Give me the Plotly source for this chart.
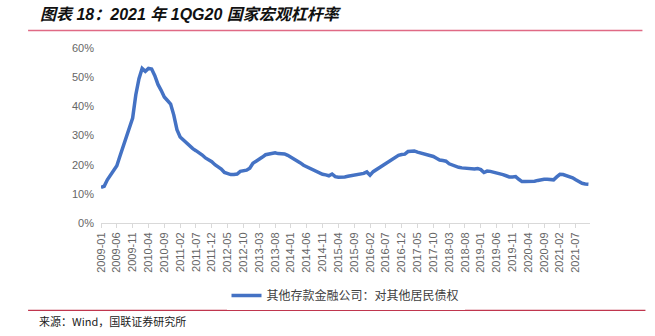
import plotly.graph_objects as go

# Monthly series, 2009-01 .. 2021-11 (percent)
years = list(range(2009, 2022))
months = [f"{y}-{m:02d}" for y in years for m in range(1, 13)][:155]

values = [
    12.2, 12.6, 14.8, 16.3, 17.6, 19.6, 23.0, 26.5, 29.5, 33.0,
    36.0, 44.0, 49.5, 53.0, 52.0, 53.0, 52.8, 50.5, 47.5, 45.5,
    43.2, 42.0, 40.8, 37.0, 32.0, 29.5, 28.5, 27.5, 26.3, 25.5,
    24.8, 24.2, 23.3, 22.3, 21.7, 21.0, 20.0, 19.2, 18.5, 17.3,
    16.8, 16.6, 16.6, 16.8, 17.7, 18.0, 18.1, 18.8, 20.5, 21.2,
    21.8, 22.6, 23.4, 23.6, 24.1, 24.1, 23.8, 23.8, 23.7, 23.2,
    22.6, 22.0, 21.3, 20.6, 19.8, 19.3, 18.8, 18.0, 17.5, 17.0,
    16.7, 16.5, 16.2, 16.8, 15.9, 15.7, 15.6, 15.8, 16.0, 16.2,
    16.4, 16.6, 16.7, 17.0, 17.5, 16.4, 17.6, 18.3, 19.0, 19.6,
    20.4, 21.2, 21.8, 22.6, 23.2, 23.5, 23.6, 24.5, 24.7, 24.7,
    24.3, 24.0, 23.8, 23.5, 23.1, 22.8, 22.2, 21.6, 21.4, 21.2,
    20.3, 19.8, 19.4, 19.1, 18.9, 18.8, 18.6, 18.5, 18.5, 18.7,
    18.3, 17.3, 17.8, 17.7, 17.5, 17.3, 17.0, 16.6, 16.2, 15.8,
    15.8, 15.9, 15.0, 14.2, 14.2, 14.2, 14.2, 14.3, 14.6, 14.9,
    15.0, 15.0, 14.9, 14.8, 15.8, 16.7, 16.6, 16.3, 15.9, 15.5,
    14.8, 14.1, 13.6, 13.4, 13.3,
]

tick_labels = months[::5]
series_name = "其他存款金融公司：对其他居民债权"
title_text = "图表 18：2021 年 1QG20 国家宏观杠杆率"
source_text = "来源：Wind，国联证券研究所"

W, H = 655, 336
L, R, T, B = 101, 590.5, 48, 222.7

def px_x(px):
    return (px - L) / (R - L)

def px_y(py):
    return (B - py) / (B - T)

latin_cjk = "Liberation Sans, Arial, Noto Sans CJK SC, sans-serif"

fig = go.Figure()
fig.add_trace(go.Scatter(
    x=months, y=values, mode="lines", name=series_name,
    line=dict(color="#4472C4", width=3.5),
))

fig.update_layout(
    width=W, height=H,
    margin=dict(l=L, r=W - R, t=T, b=H - B, pad=0),
    paper_bgcolor="white", plot_bgcolor="white",
    showlegend=True,
    legend=dict(
        orientation="h", x=0.5, xanchor="center",
        y=px_y(295), yanchor="middle",
        font=dict(family=latin_cjk, size=12, color="#404040"),
        itemwidth=30, tracegroupgap=0,
    ),
    xaxis=dict(
        type="category", range=[0, 154.5],
        tickmode="array", tickvals=tick_labels, ticktext=tick_labels,
        tickangle=-90, ticks="outside", ticklen=4, tickcolor="#D9D9D9",
        showline=True, linecolor="#D9D9D9", linewidth=1,
        showgrid=False, zeroline=False,
        tickfont=dict(family=latin_cjk, size=11, color="#666666"),
    ),
    yaxis=dict(
        range=[0, 60], dtick=10, ticksuffix="%",
        showgrid=False, zeroline=False, showline=False, ticks="",
        ticklabelstandoff=6,
        tickfont=dict(family=latin_cjk, size=11, color="#666666"),
    ),
    shapes=[
        dict(type="line", xref="paper", yref="paper",
             x0=px_x(28), x1=px_x(643), y0=px_y(30.5), y1=px_y(30.5),
             line=dict(color="#E06A85", width=1.5)),
        dict(type="line", xref="paper", yref="paper",
             x0=px_x(28), x1=px_x(646), y0=px_y(310), y1=px_y(310),
             line=dict(color="#C0364E", width=1.2)),
    ],
    annotations=[
        dict(text=f"<b><i>{title_text}</i></b>", xref="paper", yref="paper",
             x=px_x(38), y=px_y(15), xanchor="left", yanchor="middle",
             showarrow=False,
             font=dict(family=latin_cjk, size=16, color="#111111")),
        dict(text=source_text, xref="paper", yref="paper",
             x=px_x(37), y=px_y(321), xanchor="left", yanchor="middle",
             showarrow=False,
             font=dict(family="Noto Sans CJK SC, sans-serif", size=11, color="#222222")),
    ],
)

fig.write_html("out.html")
